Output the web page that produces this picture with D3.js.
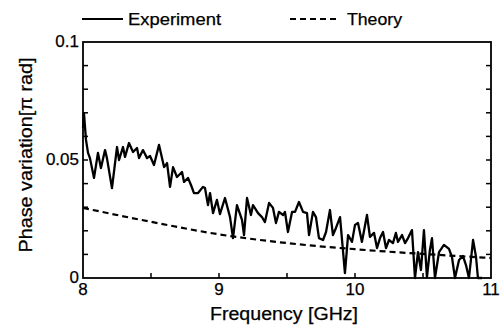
<!DOCTYPE html>
<html>
<head>
<meta charset="utf-8">
<script src="https://cdn.jsdelivr.net/npm/d3@7"></script>
<style>
  html, body { margin: 0; padding: 0; background: #fff; }
  svg { display: block; }
  text { font-family: "Liberation Sans", Arial, sans-serif; fill: #000; stroke: #000; stroke-width: 0.25; }
</style>
</head>
<body>
<svg id="chart" width="502" height="333"></svg>
<script>
// Measured phase variation vs. frequency
const expFreq = [8.000, 8.007, 8.022, 8.037, 8.051, 8.081, 8.110, 8.132, 8.162, 8.176,
  8.213, 8.250, 8.265, 8.294, 8.309, 8.338, 8.368, 8.397, 8.412, 8.441,
  8.471, 8.493, 8.522, 8.559, 8.596, 8.618, 8.640, 8.662, 8.691, 8.728,
  8.743, 8.772, 8.794, 8.816, 8.846, 8.882, 8.897, 8.919, 8.934, 8.956,
  8.985, 9.007, 9.044, 9.081, 9.103, 9.132, 9.169, 9.184, 9.206, 9.235,
  9.250, 9.287, 9.316, 9.338, 9.368, 9.397, 9.419, 9.441, 9.471, 9.485,
  9.507, 9.537, 9.559, 9.588, 9.618, 9.647, 9.662, 9.691, 9.713, 9.735,
  9.765, 9.787, 9.816, 9.838, 9.860, 9.890, 9.926, 9.949, 9.978, 10.000,
  10.022, 10.051, 10.088, 10.110, 10.140, 10.162, 10.184, 10.206, 10.228, 10.250,
  10.279, 10.301, 10.316, 10.346, 10.368, 10.390, 10.419, 10.441, 10.463, 10.485,
  10.507, 10.529, 10.551, 10.566, 10.588, 10.618, 10.654, 10.691, 10.713, 10.735,
  10.765, 10.794, 10.816, 10.838, 10.868, 10.890, 10.904, 10.934];
const expPhase = [0.0636, 0.0699, 0.0585, 0.0530, 0.0508, 0.0424, 0.0530, 0.0466, 0.0542, 0.0508,
  0.0381, 0.0555, 0.0500, 0.0555, 0.0513, 0.0572, 0.0534, 0.0551, 0.0508, 0.0542,
  0.0508, 0.0517, 0.0479, 0.0564, 0.0470, 0.0487, 0.0386, 0.0470, 0.0428, 0.0449,
  0.0407, 0.0424, 0.0394, 0.0360, 0.0360, 0.0386, 0.0381, 0.0309, 0.0360, 0.0275,
  0.0331, 0.0271, 0.0339, 0.0258, 0.0169, 0.0309, 0.0246, 0.0182, 0.0339, 0.0267,
  0.0309, 0.0275, 0.0258, 0.0237, 0.0318, 0.0297, 0.0233, 0.0280, 0.0267, 0.0280,
  0.0195, 0.0280, 0.0280, 0.0322, 0.0280, 0.0275, 0.0182, 0.0280, 0.0258, 0.0169,
  0.0161, 0.0195, 0.0288, 0.0182, 0.0212, 0.0258, 0.0021, 0.0182, 0.0153, 0.0225,
  0.0233, 0.0153, 0.0267, 0.0174, 0.0191, 0.0127, 0.0169, 0.0195, 0.0127, 0.0161,
  0.0148, 0.0191, 0.0153, 0.0182, 0.0148, 0.0169, 0.0203, 0.0000, 0.0110, 0.0034,
  0.0203, 0.0004, 0.0119, 0.0169, 0.0000, 0.0110, 0.0140, 0.0123, 0.0089, 0.0000,
  0.0076, 0.0093, 0.0055, 0.0000, 0.0161, 0.0089, 0.0000, 0.0000];

// Theoretical curve
const theoryFreq  = [8.0, 8.5, 9.0, 9.5, 10.0, 10.5, 11.0];
const theoryPhase = [0.0297, 0.0238, 0.0185, 0.0148, 0.0122, 0.0102, 0.0085];

// Axis ticks
const xTickLabels = [8, 9, 10, 11];
const xMinorTicks = [8.5, 9, 9.5, 10, 10.5];
const yTickLabels = [0, 0.05, 0.1];
const yMinorTicks = [0.01, 0.02, 0.03, 0.04, 0.05, 0.06, 0.07, 0.08, 0.09];

const svg = d3.select("#chart");
const plotL = 83, plotR = 491, plotT = 42, plotB = 278;

const x = d3.scaleLinear().domain([8, 11]).range([plotL, plotR]);
const y = d3.scaleLinear().domain([0, 0.1]).range([plotB, plotT]);

// Inward ticks on bottom, left and right
const tickG = svg.append("g").attr("stroke", "#000").attr("stroke-width", 1.5);
tickG.selectAll("line.xb").data(xMinorTicks).join("line")
  .attr("x1", d => x(d)).attr("x2", d => x(d))
  .attr("y1", plotB).attr("y2", plotB - 5);
tickG.selectAll("line.yl").data(yMinorTicks).join("line")
  .attr("x1", plotL).attr("x2", plotL + 5)
  .attr("y1", d => y(d)).attr("y2", d => y(d));
tickG.selectAll("line.yr").data(yMinorTicks).join("line")
  .attr("x1", plotR).attr("x2", plotR - 5)
  .attr("y1", d => y(d)).attr("y2", d => y(d));

// Theory (dashed)
const theoryLine = d3.line().x(d => x(d[0])).y(d => y(d[1])).curve(d3.curveMonotoneX);
svg.append("path")
  .datum(d3.zip(theoryFreq, theoryPhase))
  .attr("fill", "none").attr("stroke", "#000").attr("stroke-width", 2.2)
  .attr("stroke-dasharray", "6,4")
  .attr("d", theoryLine);

// Experiment (solid)
const expLine = d3.line().x(d => x(d[0])).y(d => y(d[1]));
svg.append("path")
  .datum(d3.zip(expFreq, expPhase))
  .attr("fill", "none").attr("stroke", "#000").attr("stroke-width", 2.3)
  .attr("stroke-linejoin", "round")
  .attr("d", expLine);

// Frame
svg.append("rect")
  .attr("x", plotL).attr("y", plotT)
  .attr("width", plotR - plotL).attr("height", plotB - plotT)
  .attr("fill", "none").attr("stroke", "#000").attr("stroke-width", 1.8);

// Tick labels
svg.selectAll("text.xl").data(xTickLabels).join("text")
  .attr("class", "xl")
  .attr("x", d => x(d)).attr("y", plotB + 17)
  .attr("text-anchor", "middle").attr("font-size", 17)
  .text(d => d);
svg.selectAll("text.yl").data(yTickLabels).join("text")
  .attr("class", "yl")
  .attr("x", plotL - 4).attr("y", d => y(d) + 5)
  .attr("text-anchor", "end").attr("font-size", 17)
  .text(d => d);

// Axis titles
svg.append("text")
  .attr("x", 284).attr("y", 320)
  .attr("text-anchor", "middle").attr("font-size", 18)
  .attr("textLength", 148).attr("lengthAdjust", "spacingAndGlyphs")
  .text("Frequency [GHz]");
svg.append("text")
  .attr("transform", "translate(32,155) rotate(-90)")
  .attr("text-anchor", "middle").attr("font-size", 18)
  .attr("textLength", 195).attr("lengthAdjust", "spacingAndGlyphs")
  .text("Phase variation[π rad]");

// Legend
const legend = svg.append("g");
legend.append("line").attr("x1", 82).attr("x2", 123).attr("y1", 19).attr("y2", 19)
  .attr("stroke", "#000").attr("stroke-width", 1.8);
legend.append("text").attr("x", 128).attr("y", 25).attr("font-size", 16)
  .attr("textLength", 93).attr("lengthAdjust", "spacingAndGlyphs")
  .text("Experiment");
legend.append("line").attr("x1", 290).attr("x2", 339).attr("y1", 19).attr("y2", 19)
  .attr("stroke", "#000").attr("stroke-width", 1.8).attr("stroke-dasharray", "6,4");
legend.append("text").attr("x", 347).attr("y", 25).attr("font-size", 16)
  .attr("textLength", 55).attr("lengthAdjust", "spacingAndGlyphs")
  .text("Theory");
</script>
</body>
</html>
